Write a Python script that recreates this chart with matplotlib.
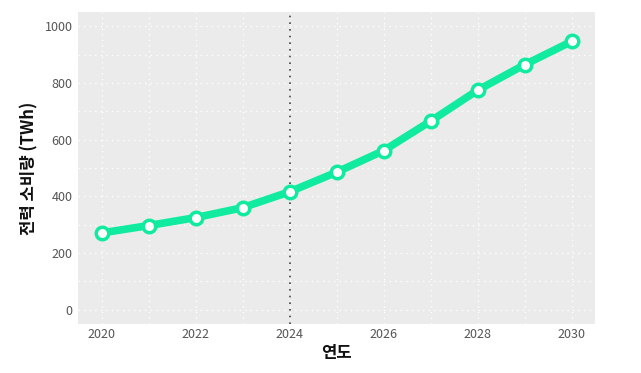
import matplotlib
matplotlib.use('Agg')
import matplotlib.pyplot as plt
from matplotlib.ticker import MultipleLocator

plt.rcParams['font.family'] = ['Noto Sans CJK KR', 'DejaVu Sans']

years = [2020, 2021, 2022, 2023, 2024, 2025, 2026, 2027, 2028, 2029, 2030]
consumption = [271, 297, 325, 360, 416, 485, 561, 665, 774, 864, 946]
marker_year = 2024

fig = plt.figure(figsize=(6.41, 3.73), dpi=100)
ax = fig.add_axes([78 / 641, 1 - 324 / 373, (595 - 78) / 641, (324 - 12) / 373])
ax.set_facecolor('#ebebeb')

ax.plot(years, consumption, color='#10eba0', linewidth=5.5, zorder=3,
        marker='o', markersize=9, markerfacecolor='white',
        markeredgecolor='#10eba0', markeredgewidth=2.5)
ax.axvline(marker_year, color='#444444', linestyle=(0, (1, 3)), linewidth=1.2, zorder=2)

ax.set_xlim(2019.5, 2030.5)
ax.set_ylim(-50, 1050)
ax.xaxis.set_major_locator(MultipleLocator(2))
ax.xaxis.set_minor_locator(MultipleLocator(1))
ax.yaxis.set_major_locator(MultipleLocator(200))
ax.yaxis.set_minor_locator(MultipleLocator(100))
ax.grid(True, which='both', color='white', linestyle=(0, (1, 3)), linewidth=1.0)
ax.set_axisbelow(True)

for s in ax.spines.values():
    s.set_visible(False)
ax.tick_params(which='both', length=0, labelsize=9, labelcolor='#555555')
ax.tick_params(axis='x', pad=3)
ax.tick_params(axis='y', pad=4)

ax.set_xlabel('연도', fontsize=12, fontweight='bold', color='#111111', labelpad=2)
ax.set_ylabel('전력 소비량 (TWh)', fontsize=12, fontweight='bold', color='#111111', labelpad=4)

fig.savefig('out.png', dpi=100)
